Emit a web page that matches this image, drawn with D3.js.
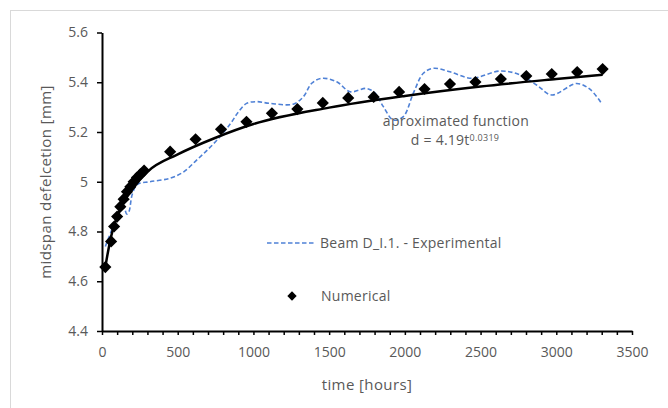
<!DOCTYPE html>
<html>
<head>
<meta charset="utf-8">
<script src="https://cdn.jsdelivr.net/npm/d3@7"></script>
<style>
body { margin: 0; background: #fff; }
text { font-family: "Open Sans", sans-serif; fill: #595959; }
</style>
</head>
<body>
<svg id="chart" width="668" height="408"></svg>
<script>
// numerical model (diamonds)
const numTimes = [22, 60, 80, 100, 121, 143, 165, 187, 209, 231, 253, 278,
	450, 618, 786, 954, 1122, 1290, 1458, 1626, 1794, 1962, 2130, 2298, 2466, 2634, 2802, 2970, 3138, 3306];
const numValues = [4.657, 4.76, 4.82, 4.86, 4.90, 4.93, 4.96, 4.98, 5.00, 5.017, 5.03, 5.045,
	5.121, 5.171, 5.211, 5.241, 5.275, 5.292, 5.317, 5.337, 5.341, 5.361, 5.373, 5.393, 5.401, 5.413, 5.425, 5.433, 5.441, 5.453];

// experimental curve, beam D_I.1.
const expTimes = [22, 60, 100, 130, 150, 163, 178, 200, 235, 317, 449, 540, 625, 700, 779, 850, 900, 955, 1021, 1109,
	1263, 1330, 1385, 1451, 1550, 1638, 1748, 1803, 1858, 1924, 1990, 2056, 2122, 2188, 2298, 2440, 2628, 2750, 2870, 2970,
	3134, 3222, 3299];
const expValues = [4.74, 4.80, 4.86, 4.90, 4.89, 4.87, 4.88, 4.95, 4.99, 5.00, 5.014, 5.04, 5.087, 5.13, 5.181, 5.235, 5.28, 5.315, 5.322, 5.315,
	5.312, 5.342, 5.396, 5.416, 5.402, 5.362, 5.375, 5.356, 5.302, 5.248, 5.262, 5.356, 5.436, 5.456, 5.442, 5.416, 5.445, 5.432, 5.389, 5.349,
	5.395, 5.372, 5.315];

// fitted power curve as drawn
const trendTimes = [22, 40, 60, 100, 150, 200, 300, 500, 750, 1000, 1500, 2000, 2500, 3000, 3306];
const trendValues = [4.657, 4.72, 4.78, 4.86, 4.925, 4.97, 5.04, 5.11, 5.177, 5.232, 5.298, 5.345, 5.383, 5.413, 5.43];

const xTickValues = d3.range(0, 3501, 100);
const xTickLabels = [0, 500, 1000, 1500, 2000, 2500, 3000, 3500];
const yTickLabels = [4.4, 4.6, 4.8, 5.0, 5.2, 5.4, 5.6];

const svg = d3.select('#chart');

svg.append('rect')
	.attr('x', 10.5).attr('y', 10.5)
	.attr('width', 700).attr('height', 420)
	.attr('fill', 'none').attr('stroke', '#d9d9d9');

const x = d3.scaleLinear().domain([0, 3500]).range([102, 632]);
const y = d3.scaleLinear().domain([4.4, 5.6]).range([331, 32.5]);

// axes
const xAxis = svg.append('g')
	.attr('transform', `translate(0,${y(4.4)})`)
	.call(d3.axisBottom(x)
		.tickValues(xTickValues)
		.tickSize(4)
		.tickSizeOuter(0)
		.tickPadding(12)
		.tickFormat(d => xTickLabels.includes(d) ? d : ''));

const yAxis = svg.append('g')
	.attr('transform', `translate(${x(0)},0)`)
	.call(d3.axisLeft(y)
		.tickValues(yTickLabels)
		.tickSize(5)
		.tickSizeOuter(0)
		.tickPadding(9)
		.tickFormat(d => String(+d.toFixed(1))));

[xAxis, yAxis].forEach(g => {
	g.select('.domain').attr('stroke', '#000').attr('stroke-width', 2);
	g.selectAll('.tick line').attr('stroke', '#000').attr('stroke-width', 1.5);
	g.selectAll('.tick text').attr('fill', '#595959').style('font-size', '14px')
		.style('font-family', '"Open Sans", sans-serif');
});

svg.append('text')
	.attr('transform', 'translate(46,182) rotate(-90)')
	.attr('text-anchor', 'middle')
	.attr('dy', '0.35em')
	.style('font-size', '15px')
	.style('letter-spacing', '0.4px')
	.text('midspan defelcetion [mm]');

svg.append('text')
	.attr('x', 367).attr('y', 385)
	.attr('text-anchor', 'middle')
	.attr('dy', '0.35em')
	.style('font-size', '15px')
	.style('letter-spacing', '0.4px')
	.text('time [hours]');

// experimental
const expLine = d3.line()
	.x((d, i) => x(expTimes[i]))
	.y(d => y(d))
	.curve(d3.curveCatmullRom.alpha(0.5));

svg.append('path')
	.datum(expValues)
	.attr('d', expLine)
	.attr('fill', 'none')
	.attr('stroke', '#4f81d6')
	.attr('stroke-width', 1.6)
	.attr('stroke-dasharray', '4.5,2.5');

// trend
const trendLine = d3.line()
	.x((d, i) => x(trendTimes[i]))
	.y(d => y(d))
	.curve(d3.curveMonotoneX);

svg.append('path')
	.datum(trendValues)
	.attr('d', trendLine)
	.attr('fill', 'none')
	.attr('stroke', '#000')
	.attr('stroke-width', 2.5);

// numerical diamonds
const diamond = d3.symbol().type(d3.symbolSquare).size(74);

svg.append('g')
	.selectAll('path')
	.data(numValues)
	.join('path')
	.attr('d', diamond)
	.attr('transform', (d, i) => `translate(${x(numTimes[i])},${y(d)}) rotate(45)`)
	.attr('fill', '#000');

// annotation
svg.append('text')
	.attr('x', 456).attr('y', 121)
	.attr('text-anchor', 'middle')
	.attr('dy', '0.35em')
	.style('font-size', '14px')
	.style('letter-spacing', '0.25px')
	.text('aproximated function');

const eq = svg.append('text')
	.attr('x', 455).attr('y', 140)
	.attr('text-anchor', 'middle')
	.attr('dy', '0.35em')
	.style('font-size', '14px')
	.style('letter-spacing', '0.25px');
eq.append('tspan').text('d = 4.19t');
eq.append('tspan').attr('dy', '-0.45em').style('font-size', '9px').text('0.0319');

// legend
svg.append('line')
	.attr('x1', 267).attr('x2', 315)
	.attr('y1', 243).attr('y2', 243)
	.attr('stroke', '#4f81d6')
	.attr('stroke-width', 1.6)
	.attr('stroke-dasharray', '4.5,2.5');

svg.append('text')
	.attr('x', 320).attr('y', 243)
	.attr('dy', '0.35em')
	.style('font-size', '14px')
	.style('letter-spacing', '0.25px')
	.text('Beam D_I.1. - Experimental');

svg.append('path')
	.attr('d', d3.symbol().type(d3.symbolSquare).size(44))
	.attr('transform', 'translate(292,296) rotate(45)')
	.attr('fill', '#000');

svg.append('text')
	.attr('x', 321).attr('y', 296)
	.attr('dy', '0.35em')
	.style('font-size', '14px')
	.style('letter-spacing', '0.25px')
	.text('Numerical');
</script>
</body>
</html>
